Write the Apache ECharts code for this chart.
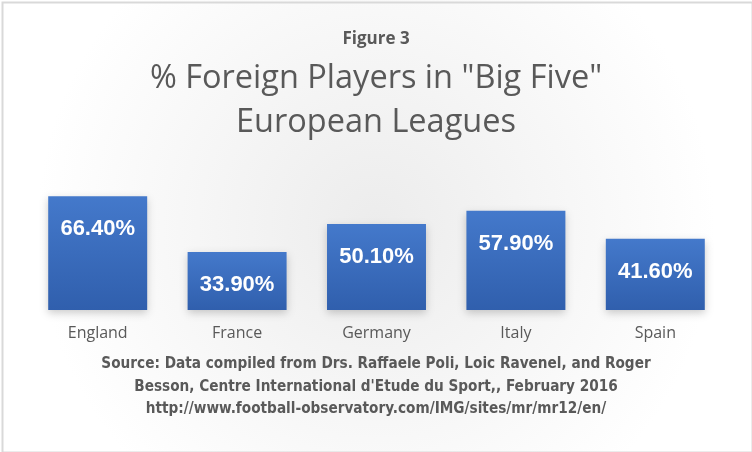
<!DOCTYPE html>
<html>
<head>
<meta charset="utf-8">
<script src="https://cdn.jsdelivr.net/npm/echarts@6/dist/echarts.min.js"></script>
<style>
html,body{margin:0;padding:0;}
#chart{width:752px;height:452px;}
</style>
</head>
<body>
<div id="chart"></div>
<script>
var categories = ['England', 'France', 'Germany', 'Italy', 'Spain'];
var foreignShare = [66.4, 33.9, 50.1, 57.9, 41.6];
var sourceLines = [
	'Source: Data compiled from Drs. Raffaele Poli, Loic Ravenel, and Roger',
	'Besson, Centre International d\'Etude du Sport,, February 2016',
	'http://www.football-observatory.com/IMG/sites/mr/mr12/en/'
];

var chart = echarts.init(document.getElementById('chart'));

var option = {
	backgroundColor: {
		type: 'radial', x: 0.5, y: 0.5, r: 0.75,
		colorStops: [{offset: 0, color: '#ececec'}, {offset: 1, color: '#ffffff'}]
	},
	graphic: [{
		type: 'rect', left: 0, top: 0, silent: true,
		shape: {x: 1, y: 1, width: 750, height: 450},
		style: {fill: 'none', stroke: '#d9d9d9', lineWidth: 2}
	}],
	title: [
		{text: 'Figure 3', left: 'center', top: 26,
			textStyle: {fontFamily: 'Open Sans', fontWeight: 'bold', fontSize: 17, color: '#595959'}},
		{text: '% Foreign Players in "Big Five"\nEuropean Leagues', left: 'center', top: 52,
			textStyle: {fontFamily: 'Open Sans', fontWeight: 'normal', fontSize: 32.5, lineHeight: 44, color: '#595959'}},
		{text: sourceLines.join('\n'), left: 'center', top: 348,
			textStyle: {fontFamily: "'DejaVu Sans Condensed', 'Liberation Sans', sans-serif", fontWeight: 'bold', fontSize: 15.2, lineHeight: 22.5, color: '#595959'}}
	],
	grid: {left: 28, right: 27, top: 190, bottom: 142},
	xAxis: {
		type: 'category',
		data: categories,
		axisLine: {show: false},
		axisTick: {show: false},
		axisLabel: {color: '#595959', fontFamily: 'Open Sans', fontSize: 16, margin: 15}
	},
	yAxis: {
		type: 'value', min: 0, max: 70,
		show: false,
		splitLine: {show: false}
	},
	series: [{
		type: 'bar',
		data: foreignShare,
		barCategoryGap: '29%',
		itemStyle: {
			color: {
				type: 'linear', x: 0, y: 0, x2: 0, y2: 1,
				colorStops: [{offset: 0, color: '#4479cb'}, {offset: 1, color: '#305fad'}]
			},
			shadowColor: 'rgba(0,0,0,0.2)', shadowBlur: 8, shadowOffsetY: 3
		},
		label: {
			show: true, position: 'insideTop', distance: 22,
			formatter: function(p){ return p.value.toFixed(2) + '%'; },
			color: '#ffffff', fontFamily: 'Liberation Sans', fontWeight: 'bold', fontSize: 22
		}
	}]
};

chart.setOption(option);
</script>
</body>
</html>
